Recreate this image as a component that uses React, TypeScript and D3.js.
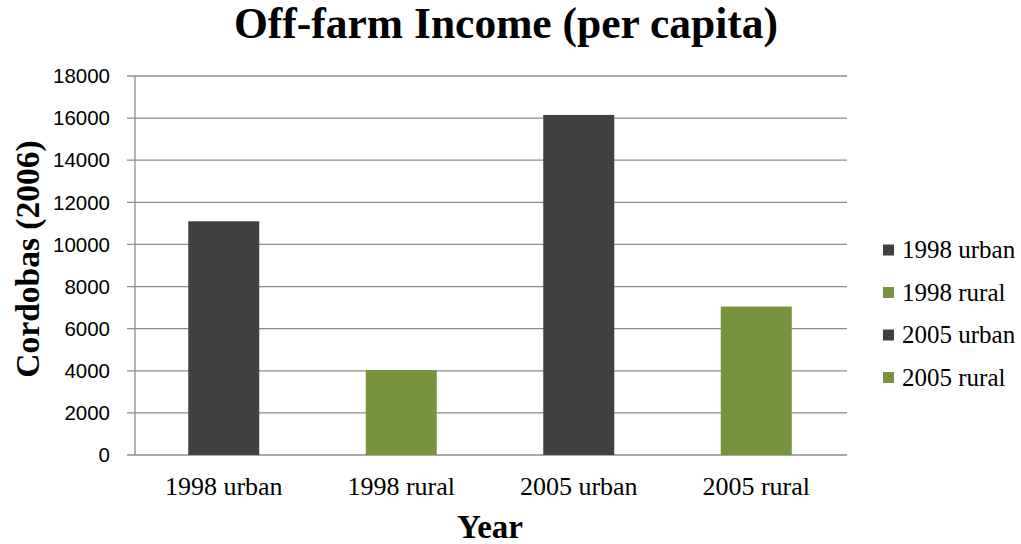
import React from "react";
import * as d3 from "d3";

const categories = ["1998 urban", "1998 rural", "2005 urban", "2005 rural"];
const values = [11100, 4030, 16150, 7050];
const barColors = ["#404040", "#77933C", "#404040", "#77933C"];
const yTicks = [0, 2000, 4000, 6000, 8000, 10000, 12000, 14000, 16000, 18000];

const W = 1021;
const H = 544;
const plot = { left: 135, right: 845, top: 76, bottom: 455 };

export default function App() {
  const x = d3
    .scaleBand<string>()
    .domain(categories)
    .range([plot.left, plot.right])
    .paddingInner(0.6)
    .paddingOuter(0.3);
  const y = d3.scaleLinear().domain([0, 18000]).range([plot.bottom, plot.top]);
  const serif = "'Liberation Serif', 'Times New Roman', serif";
  const sans = "'Liberation Sans', Arial, sans-serif";

  return (
    <svg
      width={W}
      height={H}
      style={{ position: "absolute", left: 0, top: 0, background: "#fff" }}
    >
      <rect x={0} y={0} width={W} height={H} fill="#fff" />
      <text
        x={506}
        y={38}
        textAnchor="middle"
        fontFamily={serif}
        fontWeight="bold"
        fontSize={43.5}
        fill="#000"
      >
        Off-farm Income (per capita)
      </text>
      {yTicks.map((t) => (
        <g key={t}>
          <line
            x1={plot.left - 8}
            x2={plot.right + 2}
            y1={y(t)}
            y2={y(t)}
            stroke="#8c8c8c"
            strokeWidth={1.3}
          />
          <text
            x={110}
            y={y(t)}
            dy="0.35em"
            textAnchor="end"
            fontFamily={sans}
            fontSize={20.5}
            fill="#000"
          >
            {t}
          </text>
        </g>
      ))}
      <line
        x1={plot.left}
        x2={plot.left}
        y1={plot.top}
        y2={plot.bottom}
        stroke="#8c8c8c"
        strokeWidth={1.3}
      />
      {categories.map((c, i) => (
        <rect
          key={c}
          x={x(c)}
          y={y(values[i])}
          width={x.bandwidth()}
          height={y(0) - y(values[i])}
          fill={barColors[i]}
        />
      ))}
      {categories.map((c) => (
        <text
          key={c}
          x={(x(c) as number) + x.bandwidth() / 2}
          y={495}
          textAnchor="middle"
          fontFamily={serif}
          fontSize={26}
          fill="#000"
        >
          {c}
        </text>
      ))}
      <text
        x={490}
        y={538}
        textAnchor="middle"
        fontFamily={serif}
        fontWeight="bold"
        fontSize={33}
        fill="#000"
      >
        Year
      </text>
      <text
        transform={`translate(39, 259) rotate(-90)`}
        textAnchor="middle"
        fontFamily={serif}
        fontWeight="bold"
        fontSize={33.5}
        fill="#000"
      >
        Cordobas (2006)
      </text>
      {categories.map((c, i) => (
        <g key={c} transform={`translate(883, ${250 + i * 42.5})`}>
          <rect x={0} y={-5.5} width={11} height={11} fill={barColors[i]} />
          <text
            x={19}
            y={0}
            dy="0.33em"
            fontFamily={serif}
            fontSize={25}
            fill="#000"
          >
            {c}
          </text>
        </g>
      ))}
    </svg>
  );
}
